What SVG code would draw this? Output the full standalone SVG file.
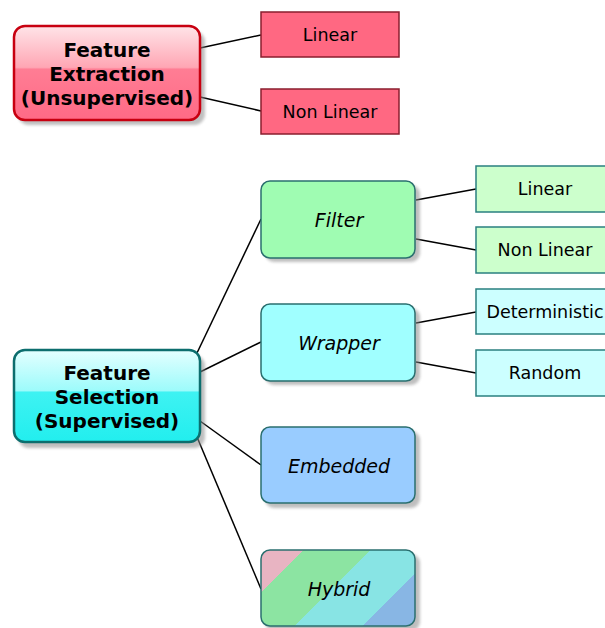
<svg xmlns="http://www.w3.org/2000/svg" width="605" height="628" viewBox="0 0 605 628">
  <style>
    .root { font-family: "DejaVu Sans", Verdana, sans-serif; font-weight: bold; font-size: 20px; fill: #000; text-anchor: middle; }
    .branch { font-family: "DejaVu Sans", Verdana, sans-serif; font-style: italic; font-size: 19px; fill: #000; text-anchor: middle; }
    .leaf { font-family: "DejaVu Sans", Verdana, sans-serif; font-size: 17.5px; fill: #000; text-anchor: middle; }
    .link { stroke: #000; stroke-width: 1.5; fill: none; }
    .shadow { fill: #8a8a8a; opacity: 0.55; filter: url(#soft); }
    .midbox { stroke: #2a6f6f; stroke-width: 1.5; }
  </style>
  <defs>
    <filter id="soft" x="-10%" y="-10%" width="130%" height="130%">
      <feGaussianBlur stdDeviation="1.5"/>
    </filter>
    <linearGradient id="gRed" x1="0" y1="0" x2="0" y2="1">
      <stop offset="0" stop-color="#ffe4e8"/>
      <stop offset="0.44" stop-color="#ffa6b4"/>
      <stop offset="0.46" stop-color="#ff7d94"/>
      <stop offset="1" stop-color="#ff6a86"/>
    </linearGradient>
    <linearGradient id="gCyan" x1="0" y1="0" x2="0" y2="1">
      <stop offset="0" stop-color="#e4ffff"/>
      <stop offset="0.44" stop-color="#9dfbfb"/>
      <stop offset="0.46" stop-color="#3ef2f2"/>
      <stop offset="1" stop-color="#22eeee"/>
    </linearGradient>
    <linearGradient id="gHybrid" gradientUnits="userSpaceOnUse" x1="0" y1="0" x2="1000" y2="1000">
      <stop offset="0.4265" stop-color="#e8b4c2"/>
      <stop offset="0.4265" stop-color="#8ce4a2"/>
      <stop offset="0.46" stop-color="#8ce4a2"/>
      <stop offset="0.46" stop-color="#88e4e4"/>
      <stop offset="0.494" stop-color="#88e4e4"/>
      <stop offset="0.494" stop-color="#88b6e4"/>
    </linearGradient>
  </defs>

  <g id="connectors">
    <line class="link" x1="200" y1="48" x2="261" y2="35"/>
    <line class="link" x1="200" y1="97" x2="261" y2="111"/>
    <line class="link" x1="197" y1="353" x2="261" y2="219"/>
    <line class="link" x1="200" y1="372" x2="261" y2="342"/>
    <line class="link" x1="200" y1="421" x2="261" y2="465"/>
    <line class="link" x1="197" y1="437" x2="261" y2="589"/>
    <line class="link" x1="416" y1="200" x2="476" y2="189"/>
    <line class="link" x1="416" y1="239" x2="476" y2="250"/>
    <line class="link" x1="416" y1="323" x2="476" y2="312"/>
    <line class="link" x1="416" y1="362" x2="476" y2="373"/>
  </g>

  <g id="feature-extraction">
    <rect class="shadow" x="18" y="31" width="187" height="94" rx="11"/>
    <rect x="14" y="26" width="186" height="94" rx="11" fill="url(#gRed)" stroke="#c80010" stroke-width="2.5"/>
    <text class="root" x="107" y="57">Feature</text>
    <text class="root" x="107" y="81">Extraction</text>
    <text class="root" x="107" y="105">(Unsupervised)</text>
  </g>

  <g id="fe-linear">
    <rect x="261" y="12" width="138" height="45" fill="#ff6882" stroke="#8a1e2e" stroke-width="1.5"/>
    <text class="leaf" x="330" y="41">Linear</text>
  </g>
  <g id="fe-nonlinear">
    <rect x="261" y="89" width="138" height="45" fill="#ff6882" stroke="#8a1e2e" stroke-width="1.5"/>
    <text class="leaf" x="330" y="118">Non Linear</text>
  </g>

  <g id="feature-selection">
    <rect class="shadow" x="18" y="355" width="187" height="93" rx="11"/>
    <rect x="14" y="350" width="186" height="92" rx="11" fill="url(#gCyan)" stroke="#0c6e6e" stroke-width="2.5"/>
    <text class="root" x="107" y="380">Feature</text>
    <text class="root" x="107" y="404">Selection</text>
    <text class="root" x="107" y="428">(Supervised)</text>
  </g>

  <g id="filter">
    <rect class="shadow" x="265" y="185" width="155" height="77" rx="9"/>
    <rect class="midbox" x="261" y="181" width="154" height="77" rx="9" fill="#9ffcb2"/>
    <text class="branch" x="339" y="227">Filter</text>
  </g>
  <g id="filter-linear">
    <rect x="476" y="166" width="134" height="46" fill="#ccffcc" stroke="#2a8080" stroke-width="1.5"/>
    <text class="leaf" x="545" y="195">Linear</text>
  </g>
  <g id="filter-nonlinear">
    <rect x="476" y="227" width="134" height="46" fill="#ccffcc" stroke="#2a8080" stroke-width="1.5"/>
    <text class="leaf" x="545" y="256">Non Linear</text>
  </g>

  <g id="wrapper">
    <rect class="shadow" x="265" y="308" width="155" height="77" rx="9"/>
    <rect class="midbox" x="261" y="304" width="154" height="77" rx="9" fill="#a0ffff"/>
    <text class="branch" x="339" y="350">Wrapper</text>
  </g>
  <g id="wrapper-deterministic">
    <rect x="476" y="289" width="134" height="45" fill="#ccffff" stroke="#2a8080" stroke-width="1.5"/>
    <text class="leaf" x="545" y="318">Deterministic</text>
  </g>
  <g id="wrapper-random">
    <rect x="476" y="350" width="134" height="46" fill="#ccffff" stroke="#2a8080" stroke-width="1.5"/>
    <text class="leaf" x="545" y="379">Random</text>
  </g>

  <g id="embedded">
    <rect class="shadow" x="265" y="431" width="155" height="77" rx="9"/>
    <rect class="midbox" x="261" y="427" width="154" height="76" rx="9" fill="#99ccff"/>
    <text class="branch" x="339" y="473">Embedded</text>
  </g>

  <g id="hybrid">
    <rect class="shadow" x="265" y="554" width="155" height="77" rx="9"/>
    <rect class="midbox" x="261" y="550" width="154" height="76" rx="9" fill="url(#gHybrid)"/>
    <text class="branch" x="339" y="596">Hybrid</text>
  </g>
</svg>
